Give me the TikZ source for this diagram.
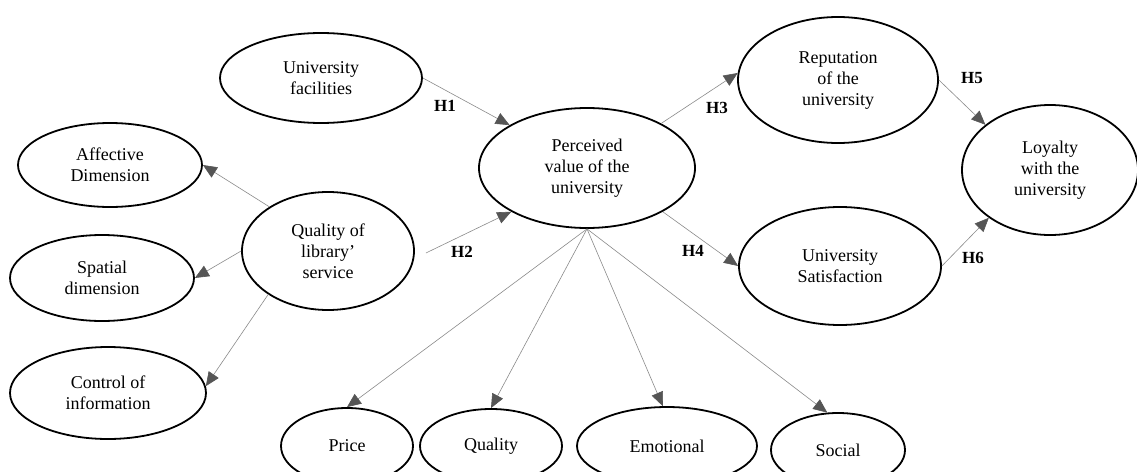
\documentclass[tikz,border=0pt]{standalone}
\usepackage{fontspec}
\setmainfont{Liberation Serif}
\usetikzlibrary{shapes.geometric,arrows.meta,calc}
\definecolor{linkgray}{HTML}{8A8A8A}
\definecolor{tipgray}{HTML}{555555}
\begin{document}
\begin{tikzpicture}[x=1pt,y=-1pt,
  latent/.style={ellipse,draw=black,line width=1.8pt,inner sep=0pt,align=center,
    font=\fontsize{18}{21}\selectfont},
  size/.style 2 args={minimum width=#1pt,minimum height=#2pt},
  link/.style={draw=linkgray,line width=0.6pt,
    -{Triangle[length=14pt,width=12pt,color=tipgray]}},
  hyp/.style={font=\fontsize{17}{20}\selectfont\bfseries,inner sep=0pt}
]
\useasboundingbox (0,0) rectangle (1137,471);
\clip (0,0) rectangle (1137,471);

% constructs
\node[latent,size={202}{90}]  (uf)  at (321,78)  {University\\facilities};
\node[latent,size={184}{84}]  (aff) at (110,165) {Affective\\Dimension};
\node[latent,size={184}{86}]  (spa) at (102,278) {Spatial\\dimension};
\node[latent,size={196}{92}]  (ctl) at (108,393) {Control of\\information};
\node[latent,size={172}{118}] (ql)  at (328,251) {Quality of\\library’\\service};
\node[latent,size={216}{120}] (pv)  at (587,168) {Perceived\\value of the\\university};
\node[latent,size={200}{126}] (rep) at (838,80)  {Reputation\\of the\\university};
\node[latent,size={202}{118}] (sat) at (840,266) {University\\Satisfaction};
\node[latent,size={176}{130}] (loy) at (1050,170) {Loyalty\\with the\\university};

% dimensions of perceived value
\node[latent,size={132}{76}] (price) at (347,446) {Price};
\node[latent,size={142}{74}] (qual)  at (491,446) {Quality};
\node[latent,size={180}{78}] (emo)   at (667,446) {Emotional};
\node[latent,size={134}{74}] (soc)   at (838,450) {Social};

% structural paths
\coordinate (h2start) at ($(ql.east)+(11,2)$);
\draw[link] (uf.east) -- (pv.151);
\draw[link] (h2start) -- (pv.210);
\draw[link] (pv.31) -- (rep.176);
\draw[link] (pv.330) -- (sat.west);
\draw[link] (rep.east) -- (loy.145);
\draw[link] (sat.east) -- (loy.218);

% measurement paths
\draw[link] (ql.143) -- (aff.east);
\draw[link] (ql.west) -- (spa.east);
\draw[link] (ql.216) -- (ctl.4);
\draw[link] (pv.south) -- (price.north);
\draw[link] (pv.south) -- (qual.north);
\draw[link] (pv.south) -- (emo.96);
\draw[link] (pv.south) -- (soc.106);

% hypothesis labels
\node[hyp] (l1) at (445,106) {H1};
\node[hyp] (l2) at (462,252) {H2};
\node[hyp] (l3) at (717,108) {H3};
\node[hyp] (l4) at (693,251) {H4};
\node[hyp] (l5) at (972,78)  {H5};
\node[hyp] (l6) at (973,258) {H6};
\end{tikzpicture}
\end{document}
